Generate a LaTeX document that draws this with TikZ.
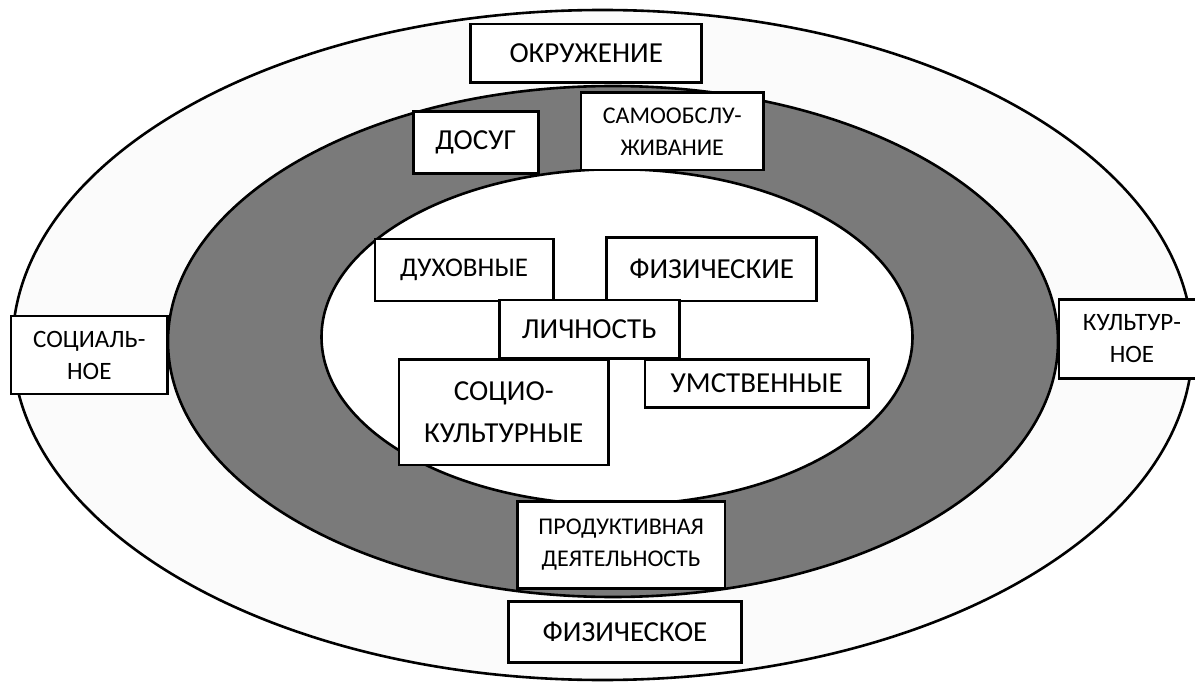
\documentclass[tikz,border=0pt]{standalone}
\usepackage{fontspec}
\setmainfont{Carlito}
\begin{document}
\begin{tikzpicture}[x=1pt,y=-1pt,
  ring/.style={draw=black,line width=2.6pt},
  box/.style={draw=black,line width=2.6pt,fill=white,align=center,inner sep=0pt,text=black},
  fs/.style={font=\fontsize{#1}{32}\selectfont}]
\useasboundingbox (0,0) rectangle (1195,682);
\definecolor{outerfill}{RGB}{251,251,251}
\definecolor{ringfill}{RGB}{122,122,122}
\path[ring,fill=outerfill] (602.5,345) ellipse [x radius=590pt,y radius=335pt];
\path[ring,fill=ringfill] (613,341.5) ellipse [x radius=445pt,y radius=255.5pt];
\path[ring,fill=white] (617,337) ellipse [x radius=295.5pt,y radius=167.8pt];
\node[box,fs=29,minimum width=231pt,minimum height=58.3pt] (okr) at (586.2,53.2) {ОКРУЖЕНИЕ};
\node[box,fs=29,minimum width=125pt,minimum height=61.6pt] (dosug) at (475.8,142.5) {ДОСУГ};
\node[box,fs=24,minimum width=182.3pt,minimum height=77.3pt] (samo) at (672.2,131.4) {САМООБСЛУ-\\ЖИВАНИЕ};
\node[box,fs=27,minimum width=178.3pt,minimum height=62pt] (duh) at (464.2,270) {ДУХОВНЫЕ};
\node[box,fs=29,minimum width=210pt,minimum height=63.7pt] (fiz) at (711.7,269.2) {ФИЗИЧЕСКИЕ};
\node[box,fs=29,minimum width=180pt,minimum height=58.3pt] (lich) at (589.3,329.2) {ЛИЧНОСТЬ};
\node[box,font=\fontsize{29}{42.7}\selectfont,minimum width=209.3pt,minimum height=105.7pt] (socio) at (503.7,412.2) {СОЦИО-\\КУЛЬТУРНЫЕ};
\node[box,fs=29,minimum width=223.3pt,minimum height=48.4pt] (umst) at (756.7,383.5) {УМСТВЕННЫЕ};
\node[box,fs=25,minimum width=156.7pt,minimum height=78pt] (soc) at (89.3,355) {СОЦИАЛЬ-\\НОЕ};
\node[box,fs=25,minimum width=146pt,minimum height=79pt] (kult) at (1132,338.8) {КУЛЬТУР-\\НОЕ};
\node[box,fs=24,minimum width=207.7pt,minimum height=86.6pt] (prod) at (621.2,545) {ПРОДУКТИВНАЯ\\ДЕЯТЕЛЬНОСТЬ};
\node[box,fs=29,minimum width=233.4pt,minimum height=61pt] (fizo) at (625,632.2) {ФИЗИЧЕСКОЕ};
\end{tikzpicture}
\end{document}
